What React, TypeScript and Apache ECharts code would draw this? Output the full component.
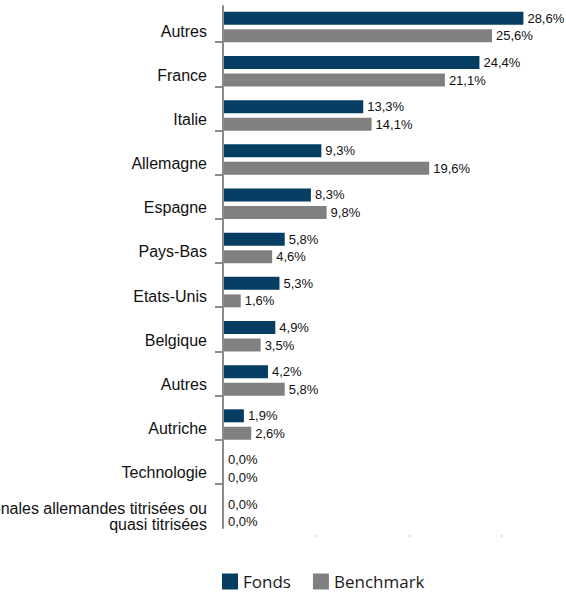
import React, { useEffect, useRef } from "react";
import * as echarts from "echarts";

const categories = [
  "Autres",
  "France",
  "Italie",
  "Allemagne",
  "Espagne",
  "Pays-Bas",
  "Etats-Unis",
  "Belgique",
  "Autres",
  "Autriche",
  "Technologie",
  "Obligations régionales allemandes titrisées ou\nquasi titrisées",
];
const fondsValues = [28.6, 24.4, 13.3, 9.3, 8.3, 5.8, 5.3, 4.9, 4.2, 1.9, 0.0, 0.0];
const benchmarkValues = [25.6, 21.1, 14.1, 19.6, 9.8, 4.6, 1.6, 3.5, 5.8, 2.6, 0.0, 0.0];
const seriesNames = ["Fonds", "Benchmark"];
const xTickMarks = [8.83, 17.66, 26.5];
const boundaryTicks = [1, 2, 3, 4, 5, 6, 7, 8, 9, 10, 11];

const ARIAL = "'Liberation Sans', Arial, sans-serif";
const fmt = (v: number) => v.toFixed(1).replace(".", ",") + "%";

export default function App() {
  const ref = useRef<HTMLDivElement>(null);
  useEffect(() => {
    if (!ref.current) return;
    const chart = echarts.init(ref.current, null, { renderer: "svg" });
    const labelStyle = {
      show: true,
      position: "right" as const,
      distance: 4,
      fontFamily: ARIAL,
      fontSize: 13,
      color: "#111",
      formatter: (p: any) => fmt(p.value),
    };
    chart.setOption({
      animation: false,
      backgroundColor: "#ffffff",
      legend: {
        data: seriesNames,
        left: 222,
        top: 573,
        padding: 0,
        itemWidth: 16,
        itemHeight: 16,
        itemGap: 22,
        icon: "rect",
        textStyle: { fontFamily: "'Open Sans', sans-serif", fontSize: 17, color: "#1a1a1a", padding: [3, 0, 0, 0] },
      },
      grid: [
        { left: 224, top: 5, width: 335, height: 530, containLabel: false, outerBoundsMode: "none" },
        { left: 223, top: 6, width: 335, height: 522, containLabel: false, outerBoundsMode: "none" },
        { left: 224, top: 9, width: 335, height: 530, containLabel: false, outerBoundsMode: "none" },
      ],
      xAxis: [
        {
          type: "value",
          gridIndex: 0,
          min: 0,
          max: 32,
          axisLine: { show: false },
          splitLine: { show: false },
          axisLabel: { show: false },
          axisTick: {
            show: true,
            customValues: xTickMarks,
            length: 2,
            lineStyle: { color: "#c8c8c8", width: 1 },
          },
        },
        { type: "value", gridIndex: 1, show: false, min: 0, max: 1 },
        { type: "value", gridIndex: 2, show: false, min: 0, max: 1 },
      ],
      yAxis: [
        {
          type: "category",
          gridIndex: 0,
          data: categories,
          inverse: true,
          axisLine: { show: false },
          axisTick: { show: false },
          axisLabel: { show: false },
        },
        {
          type: "value",
          gridIndex: 1,
          inverse: true,
          min: 0.18,
          max: 12,
          position: "left",
          axisLine: { show: true, lineStyle: { color: "#8a8a8a", width: 2 } },
          axisTick: {
            show: true,
            customValues: boundaryTicks,
            length: 8,
            lineStyle: { color: "#8a8a8a", width: 2 },
          },
          axisLabel: { show: false },
          splitLine: { show: false },
        },
        {
          type: "category",
          gridIndex: 2,
          data: categories,
          inverse: true,
          axisLine: { show: false },
          axisTick: { show: false },
          axisLabel: {
            margin: 17,
            fontFamily: ARIAL,
            fontSize: 16,
            lineHeight: 16,
            color: "#111",
            align: "right",
          },
        },
      ],
      series: [
        {
          name: seriesNames[0],
          type: "bar",
          xAxisIndex: 0,
          yAxisIndex: 0,
          data: fondsValues,
          barWidth: 13,
          barGap: "35%",
          itemStyle: { color: "#053e62" },
          label: labelStyle,
        },
        {
          name: seriesNames[1],
          type: "bar",
          xAxisIndex: 0,
          yAxisIndex: 0,
          data: benchmarkValues,
          barWidth: 13,
          barGap: "35%",
          itemStyle: { color: "#808080" },
          label: labelStyle,
        },
      ],
    });
    return () => chart.dispose();
  }, []);
  return (
    <div
      ref={ref}
      style={{ position: "absolute", left: 0, top: 0, width: 566, height: 593 }}
    />
  );
}
